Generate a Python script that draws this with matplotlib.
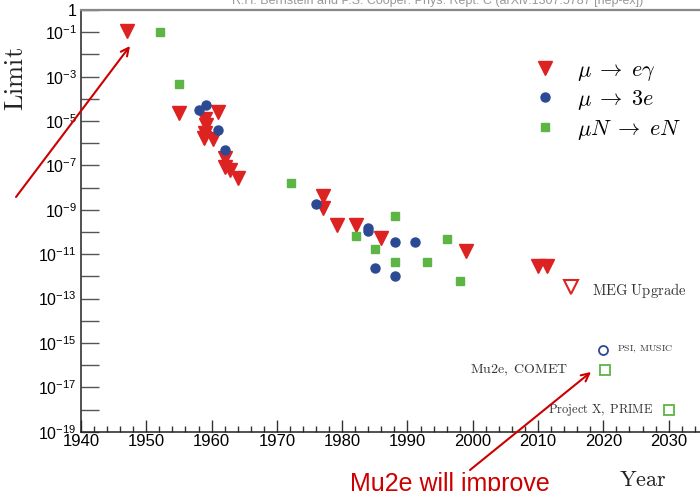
"""Muon cLFV limits vs year (Bernstein & Cooper), with Mu2e call-out."""
import math

import matplotlib

matplotlib.use("Agg")

import matplotlib.pyplot as plt  # noqa: E402
from matplotlib.lines import Line2D  # noqa: E402
from matplotlib.ticker import FixedLocator, MultipleLocator, FuncFormatter  # noqa: E402

# ---- data ------------------------------------------------------------------
meg_year = [1947, 1955, 1959, 1959.2, 1961, 1959, 1958.9, 1960.2, 1962,
            1962.1, 1962.8, 1964.1, 1977, 1977, 1979.2, 1982.1, 1986,
            1999, 2010, 2011.3]
meg_lim = [1.1e-1, 2.2e-5, 1.2e-5, 6.5e-6, 2.6e-5, 2.8e-6, 1.7e-6, 1.5e-6,
           2.1e-7, 8.3e-8, 6.3e-8, 2.6e-8, 4e-9, 1.2e-9, 2.1e-10, 2.1e-10,
           5.6e-11, 1.4e-11, 3e-12, 2.8e-12]

m3e_year = [1958, 1959.1, 1961, 1962.1, 1976, 1984, 1984, 1988.1, 1991.1,
            1985, 1988.1]
m3e_lim = [3e-5, 5.3e-5, 4e-6, 5e-7, 1.8e-9, 1.5e-10, 1.1e-10, 3.7e-11,
           3.7e-11, 2.4e-12, 1e-12]

conv_year = [1952.1, 1955, 1972.1, 1982.1, 1988.1, 1985, 1988.1, 1993,
             1996, 1998]
conv_lim = [1e-1, 4.8e-4, 1.6e-8, 6.9e-11, 5e-10, 1.7e-11, 4.6e-12,
            4.4e-12, 4.7e-11, 6.3e-13]

# future projections: (label, year, limit)
fut_meg = ("MEG Upgrade", 2015, 3.2e-13)
fut_m3e = ("PSI, MUSIC", 2020, 5e-16)
fut_conv = [("Mu2e, COMET", 2020.2, 6e-17), ("Project X, PRIME", 2030, 1e-18)]

y_tick_exps = list(range(0, -20, -1))
legend_labels = [r"$\mu \;\rightarrow\; e\gamma$", r"$\mu \;\rightarrow\; 3e$",
                 r"$\mu N \;\rightarrow\; eN$"]

RED = "#dd2222"
BLUE = "#2c4a94"
GREEN = "#5cb544"
ARROW = "#cc0000"

plt.rcParams["font.family"] = ["Liberation Sans", "DejaVu Sans"]

fig = plt.figure(figsize=(7.0, 4.91), dpi=100)
ax = fig.add_axes([81 / 700, 1 - 431.7 / 491, 1 - 81 / 700,
                   (431.7 - 10.1) / 491])

ax.plot(meg_year, meg_lim, "v", color=RED, ms=9.5, ls="none", zorder=3)
ax.plot(m3e_year, m3e_lim, "o", color=BLUE, ms=6.5, ls="none", zorder=4)
ax.plot(conv_year, conv_lim, "s", color=GREEN, ms=6, ls="none", zorder=3)

# open markers for the planned experiments
ax.plot(fut_meg[1], fut_meg[2], "v", mfc="none", mec=RED, mew=1.5, ms=10)
ax.plot(fut_m3e[1], fut_m3e[2], "o", mfc="none", mec=BLUE, mew=1.3, ms=6.5)
for _, yr, lim in fut_conv:
    ax.plot(yr, lim, "s", mfc="none", mec=GREEN, mew=1.3, ms=6.5)

cm_text = dict(math_fontfamily="cm", color="#333333")
ax.annotate(r"$\mathrm{MEG\ Upgrade}$", (fut_meg[1], fut_meg[2]),
            xytext=(15, -2), textcoords="offset points", va="center",
            fontsize=10.5, **cm_text)
ax.annotate(r"$\mathrm{PSI,\ MUSIC}$", (fut_m3e[1], fut_m3e[2]),
            xytext=(10, 0), textcoords="offset points", va="center",
            fontsize=7, **cm_text)
ax.annotate(r"$\mathrm{Mu2e,\ COMET}$", (fut_conv[0][1], fut_conv[0][2]),
            xytext=(-26, 0), textcoords="offset points", va="center",
            ha="right", fontsize=10, **cm_text)
ax.annotate(r"$\mathrm{Project\ X,\ PRIME}$", (fut_conv[1][1], fut_conv[1][2]),
            xytext=(-11, 0), textcoords="offset points", va="center",
            ha="right", fontsize=9, **cm_text)

ax.set_yscale("log")
ax.set_xlim(1940, 2034.8)
ax.set_ylim(1e-19, 1)

ax.yaxis.set_major_locator(FixedLocator([10.0 ** e for e in y_tick_exps]))
ax.yaxis.set_minor_locator(FixedLocator([]))


def _ylab(v, _pos):
    e = int(round(math.log10(v)))
    if e == 0:
        return "1"
    if e % 2 == 0:
        return ""
    return r"$\mathregular{10^{%d}}$" % e


ax.yaxis.set_major_formatter(FuncFormatter(_ylab))
ax.xaxis.set_major_locator(MultipleLocator(10))
ax.xaxis.set_minor_locator(MultipleLocator(2))
ax.tick_params(axis="y", which="major", direction="in", length=13,
               width=1.0, color="#555555", labelsize=11.5, pad=3)
ax.tick_params(axis="x", which="major", direction="in", length=8.5,
               width=1.0, color="#333333", labelsize=12, pad=2)
ax.tick_params(axis="x", which="minor", direction="in", length=4.5,
               width=1.0, color="#333333")

ax.spines["right"].set_visible(False)
ax.spines["top"].set_color("#888888")
ax.spines["top"].set_linewidth(1.6)
for side in ("left", "bottom"):
    ax.spines[side].set_color("#222222")
    ax.spines[side].set_linewidth(1.1)

handles = [Line2D([], [], marker="v", color=RED, ls="none", ms=9.5),
           Line2D([], [], marker="o", color=BLUE, ls="none", ms=6.5),
           Line2D([], [], marker="s", color=GREEN, ls="none", ms=6)]
ax.legend(handles, legend_labels, loc="upper left",
          bbox_to_anchor=(0.70, 0.93), frameon=False, handlelength=1.0,
          handletextpad=0.9, labelspacing=0.25,
          prop=dict(size=16, math_fontfamily="cm"))

# axis titles in Computer Modern like the original slide
fig.text(16 / 700, 1 - 79 / 491, r"$\mathrm{Limit}$", rotation=90,
         ha="center", va="center", fontsize=19, math_fontfamily="cm",
         color="#222222")
fig.text(643 / 700, 1 - 481 / 491, r"$\mathrm{Year}$", ha="center",
         va="center", fontsize=16, math_fontfamily="cm", color="#222222")

fig.text(232 / 700, 1 - 4 / 491,
         "R.H. Bernstein and P.S. Cooper: Phys. Rept. C "
         "(arXiv:1307.5787 [hep-ex])",
         ha="left", va="baseline", fontsize=9, color="#999999")

# red call-outs drawn on the slide
arrow = dict(arrowstyle="->", color=ARROW, lw=1.5, mutation_scale=14,
             shrinkA=0, shrinkB=0)
ax.annotate("", xy=(130, 491 - 46), xycoords="figure pixels",
            xytext=(16, 491 - 197), textcoords="figure pixels",
            arrowprops=arrow, annotation_clip=False)
ax.annotate("", xy=(591, 491 - 372), xycoords="figure pixels",
            xytext=(470, 491 - 470), textcoords="figure pixels",
            arrowprops=arrow, annotation_clip=False)
fig.text(350 / 700, 0.5 / 491, "Mu2e will improve", ha="left",
         va="baseline", fontsize=18, color=ARROW)

fig.savefig("out.png", dpi=100, facecolor="white")
